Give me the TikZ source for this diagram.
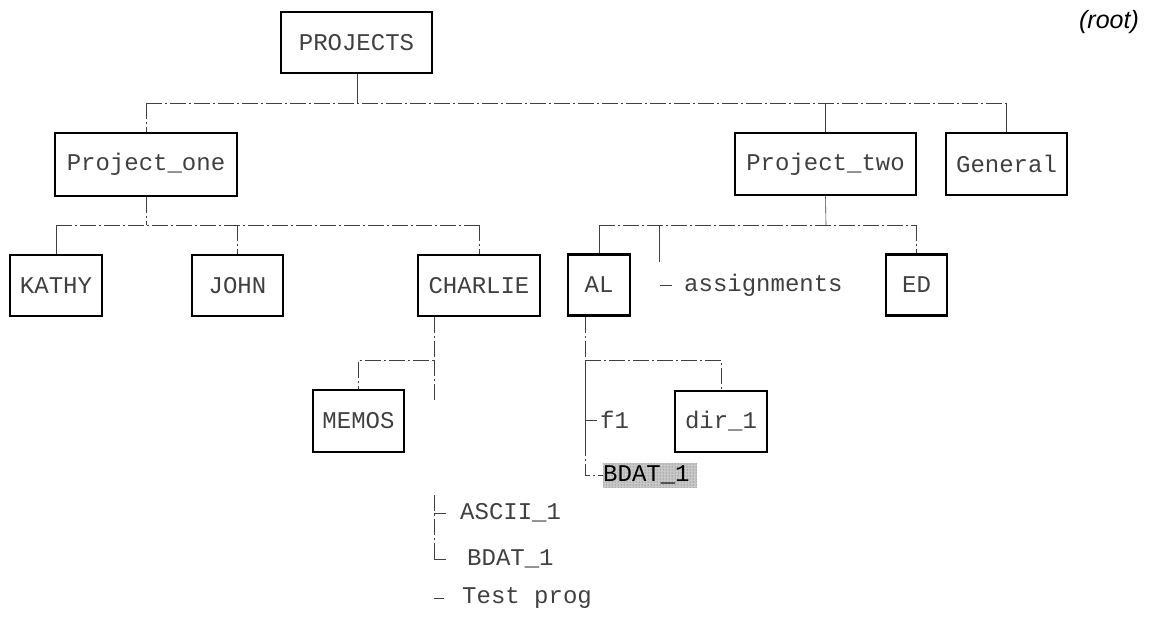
\documentclass[tikz,border=0pt]{standalone}
\usepackage{fontspec}
\usetikzlibrary{patterns}
\newfontfamily\plotfont{Liberation Mono}
\newfontfamily\rootfont{Liberation Sans}
\begin{document}
\begin{tikzpicture}[x=1pt,y=-1pt,
  box/.style={draw, line width=2.9pt, inner sep=0pt, text=black!75,
    font=\plotfont\fontsize{24}{28}\selectfont},
  plain/.style={inner sep=0pt, anchor=west, text=black!75,
    font=\plotfont\fontsize{24}{28}\selectfont},
  link/.style={line width=0.6pt, black!75, dash pattern=on 16pt off 3pt on 2pt off 3pt},
  tick/.style={line width=0.6pt, black!75}]
\useasboundingbox (0,0) rectangle (1155,617);

% boxes
\node[box, minimum width=151pt, minimum height=61pt] (projects) at (356.5,42.5) {PROJECTS};
\node[box, minimum width=182pt, minimum height=63pt] (projone) at (146,164.5) {Project\_one};
\node[box, minimum width=181pt, minimum height=62pt] (projtwo) at (825.5,164) {Project\_two};
\node[box, minimum width=121pt, minimum height=62pt] (general) at (1006.5,164) {General};
\node[box, minimum width=92pt, minimum height=61pt] (kathy) at (56,285.5) {KATHY};
\node[box, minimum width=91pt, minimum height=61pt] (john) at (237.5,285.5) {JOHN};
\node[box, minimum width=122pt, minimum height=61pt] (charlie) at (479,285.5) {CHARLIE};
\node[box, minimum width=62pt, minimum height=61pt] (al) at (599,285) {AL};
\node[box, minimum width=61pt, minimum height=61pt] (ed) at (916.5,285) {ED};
\node[box, minimum width=91pt, minimum height=62pt] (memos) at (358.5,421) {MEMOS};
\node[box, minimum width=92pt, minimum height=61pt] (dir1) at (721,421.5) {dir\_1};

% plain entries
\node[plain] (assign) at (684,285) {assignments};
\node[plain] (f1) at (600,420) {f1};
\node[plain, fill=black!22, minimum width=94pt, minimum height=25pt] (bdathl) at (603,475) {};
\fill[pattern=dots, pattern color=black!60] (bdathl.north west) rectangle (bdathl.south east);
\node[plain, text=black] (bdathltext) at (bdathl.west) {BDAT\_1};
\node[plain] (ascii) at (460,513) {ASCII\_1};
\node[plain] (bdat) at (467,559) {BDAT\_1};
\node[plain] (test) at (462,598) {Test prog};

\node[inner sep=0pt, font=\rootfont\itshape\fontsize{25}{30}\selectfont] (root) at (1109,22) {(root)};

% top level
\coordinate (j0) at (357,103);
\draw[tick] (projects.south -| j0) -- (j0);
\draw[link] (projone.north |- j0) -- (general.north |- j0);
\draw[link] (projone.north |- j0) -- (projone.north);
\draw[tick] (projtwo.north |- j0) -- (projtwo.north);
\draw[tick] (general.north |- j0) -- (general.north);

% Project_one children
\coordinate (j1) at (146,225);
\draw[link] (projone.south) -- (j1);
\draw[link] (kathy.north |- j1) -- (charlie.north |- j1);
\draw[tick] (kathy.north |- j1) -- (kathy.north);
\draw[link] (john.north |- j1) -- (john.north);
\draw[link] (charlie.north |- j1) -- (charlie.north);

% Project_two children
\coordinate (j2) at (826,225);
\draw[tick] (projtwo.south) -- (j2);
\draw[link] (al.north |- j2) -- (ed.north |- j2);
\draw[tick] (al.north |- j2) -- (al.north);
\draw[link] (ed.north |- j2) -- (ed.north);
\coordinate (aj) at (659,225);
\coordinate (ae) at (659,262);
\draw[tick] (aj) -- (ae);
\coordinate (ad) at (660,285);
\draw[tick] (ad) -- ([xshift=-12pt]assign.west);

% CHARLIE children
\coordinate (c0) at ([xshift=-45pt]charlie.south);
\coordinate (c1) at (434,360);
\coordinate (c2) at (434,403);
\draw[link] (c0) -- (c1) -- (memos.north |- c1) -- (memos.north);
\draw[link] (c1) -- (c2);

% AL children
\coordinate (a0) at ([xshift=-14pt]al.south);
\coordinate (k1) at (585,360);
\coordinate (k2) at (585,475);
\draw[link] (a0) -- (k1);
\draw[link] (k1) -- (dir1.north |- k1) -- (dir1.north);
\draw[tick] (k1) -- (585,440);
\draw[link] (585,440) -- (k2) -- (bdathl.west);
\draw[tick] (f1.west -| k1) -- ([xshift=-3pt]f1.west);

% lower list
\coordinate (l0) at (434,495);
\draw[link] (l0) -- (ascii.west -| l0) -- (bdat.west -| l0);
\draw[tick] (ascii.west -| l0) -- ([xshift=-14pt]ascii.west);
\draw[tick] (bdat.west -| l0) -- ([xshift=-21pt]bdat.west);
\draw[tick] (test.west -| l0) -- ([xshift=-18pt]test.west);
\end{tikzpicture}
\end{document}
